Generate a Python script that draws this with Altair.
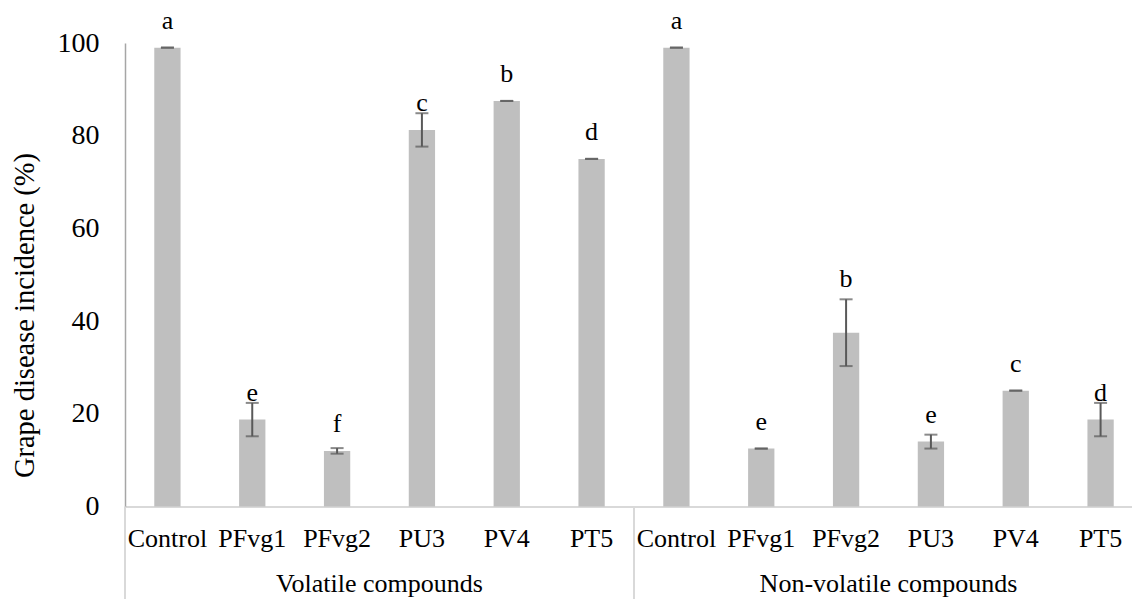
import altair as alt
import pandas as pd

# Treatments and groups
groups = ["Volatile compounds", "Non-volatile compounds"]
treatments = ["Control", "PFvg1", "PFvg2", "PU3", "PV4", "PT5"]

# Disease incidence (%) per group, with standard deviations and significance letters
volatile_mean = [99, 18.75, 12, 81.25, 87.5, 75]
volatile_sd = [0, 3.6, 0.6, 3.6, 0, 0]
volatile_letters = ["a", "e", "f", "c", "b", "d"]

nonvolatile_mean = [99, 12.5, 37.5, 14, 25, 18.75]
nonvolatile_sd = [0, 0, 7.2, 1.5, 0, 3.6]
nonvolatile_letters = ["a", "e", "b", "e", "c", "d"]

y_ticks = [0, 20, 40, 60, 80, 100]

FONT = "Liberation Serif"
BAR = "#BFBFBF"
ERR = "#595959"
LINE = "#D9D9D9"

rows = []
for g, means, sds, letters in [
    (groups[0], volatile_mean, volatile_sd, volatile_letters),
    (groups[1], nonvolatile_mean, nonvolatile_sd, nonvolatile_letters),
]:
    for t, m, s, l in zip(treatments, means, sds, letters):
        hi = m + s
        # letters sit just above the bar; lift them when the error bar would cut through
        anchor = m if m + 4.1 >= hi else hi - 1.5
        rows.append({"group": g, "treatment": t, "key": f"{g}|{t}",
                     "mean": m, "lo": m - s, "hi": hi, "anchor": anchor,
                     "letter": l})
df = pd.DataFrame(rows)
keys = list(df["key"])

# group boundaries and group-title anchors
sep_df = pd.DataFrame({"key": [f"{g}|{treatments[0]}" for g in groups]})
mid_df = pd.DataFrame({"key": [f"{g}|{treatments[3]}" for g in groups],
                       "label": groups})

H = 463.5
x_scale = alt.Scale(domain=keys, range=[0, 1018], paddingInner=0, paddingOuter=0)
y_scale = alt.Scale(domain=[0, 100], nice=False)

# one shared axis definition per channel, used by every layer
x_axis = alt.Axis(
    title=None, orient="bottom",
    labelExpr="split(datum.label, '|')[1]", labelAngle=0,
    labelFont=FONT, labelFontSize=26, labelColor="black",
    labelBaseline="alphabetic", labelPadding=39.5, labelOverlap=False,
    ticks=False, tickSize=0, grid=False,
    domainColor=LINE, domainWidth=2,
)
y_axis = alt.Axis(
    orient="left", values=y_ticks, title="Grape disease incidence (%)",
    labelFont=FONT, labelFontSize=28, labelColor="black", labelPadding=26,
    ticks=False, grid=False, domainColor="#A6A6A6", domainWidth=1.5,
    titleFont=FONT, titleFontSize=28.5, titleFontWeight="normal",
    titleColor="black", titleBaseline="alphabetic", titleAlign="center",
    titleX=-92, titleY=272, titleAngle=270,
)


def xk(**kw):
    return alt.X("key:N", sort=keys, scale=x_scale, axis=x_axis, **kw)


def yq(field):
    return alt.Y(field, scale=y_scale, axis=y_axis)


base = alt.Chart(df)

bars = base.mark_bar(color=BAR, width={"band": 0.31}).encode(
    x=xk(), y=yq("mean:Q"),
)

err = base.mark_rule(color=ERR, strokeWidth=2).encode(
    x=xk(), y=yq("lo:Q"), y2="hi:Q",
)
cap_hi = base.mark_tick(color=ERR, size=13, thickness=2).encode(
    x=xk(), y=yq("hi:Q"),
)
cap_lo = base.mark_tick(color=ERR, size=13, thickness=2).encode(
    x=xk(), y=yq("lo:Q"),
)

letters = base.mark_text(font=FONT, fontSize=26, color="black",
                         baseline="alphabetic", dy=-19).encode(
    x=xk(), y=yq("anchor:Q"), text="letter:N",
)

seps = alt.Chart(sep_df).mark_rule(color=LINE, strokeWidth=2).encode(
    x=xk(bandPosition=0),
    y=alt.value(H),
    y2=alt.value(H + 93),
)

group_titles = alt.Chart(mid_df).mark_text(
    font=FONT, fontSize=26, color="black", baseline="alphabetic", align="center"
).encode(
    x=xk(bandPosition=0),
    y=alt.value(H + 85.5),
    text="label:N",
)

chart = (
    alt.layer(bars, err, cap_hi, cap_lo, letters, seps, group_titles)
    .resolve_axis(x="shared", y="shared")
    .properties(
        width=1007, height=H,
        autosize=alt.AutoSizeParams(type="none"),
        padding={"left": 125, "top": 43, "right": 0, "bottom": 92.5},
    )
    .configure(background="white", font=FONT)
    .configure_view(strokeWidth=0, stroke="transparent")
    .configure_axis(labelFont=FONT, titleFont=FONT, grid=False, ticks=False)
    .configure_text(font=FONT)
)

chart.save("out.html", embed_options={"renderer": "svg", "actions": False})
